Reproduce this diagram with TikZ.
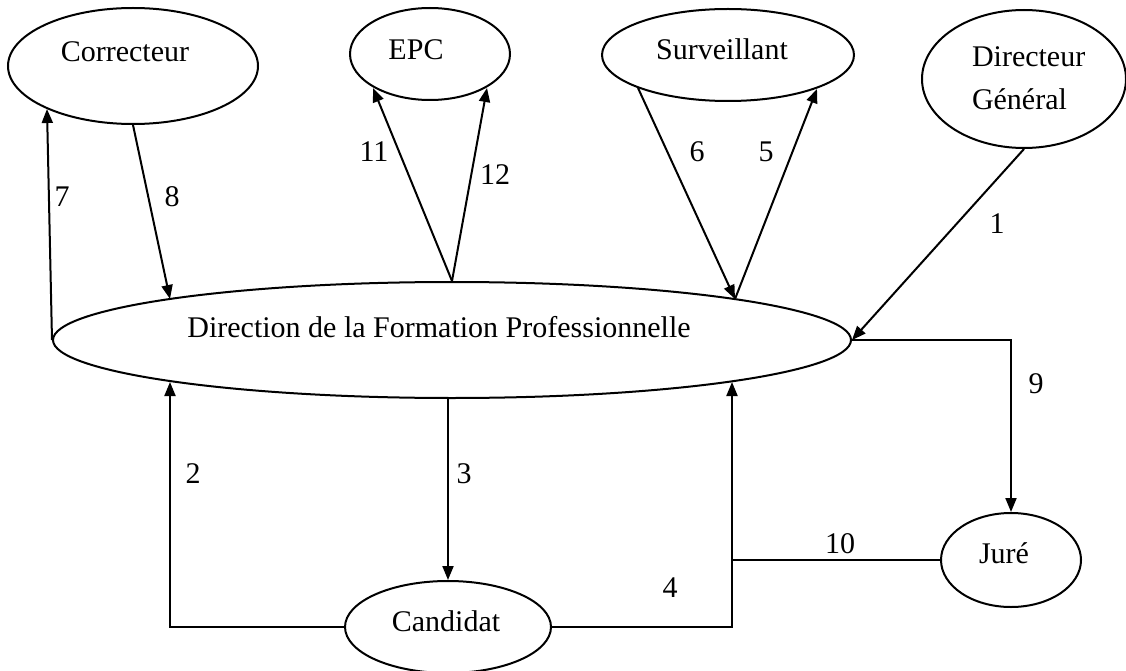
\documentclass[tikz,border=0pt]{standalone}
\usepackage{fontspec}
\setmainfont{Liberation Serif}
\usetikzlibrary{shapes.geometric,arrows.meta,calc}
\begin{document}
\begin{tikzpicture}[x=1pt,y=-1pt,line width=2pt,
  bubble/.style={draw,ellipse,inner sep=0pt},
  txt/.style={font=\fontsize{30}{36}\selectfont,anchor=base,inner sep=0pt},
  flow/.style={-{Triangle[length=14pt,width=11pt]}}]
\useasboundingbox (0,0) rectangle (1126,671);

% actors
\node[bubble,minimum width=250pt,minimum height=116pt] (corr) at (133,66) {};
\node[bubble,minimum width=160pt,minimum height=92pt]  (epc)  at (430,54) {};
\node[bubble,minimum width=252pt,minimum height=92pt]  (surv) at (728,55) {};
\node[bubble,minimum width=204pt,minimum height=138pt] (dg)   at (1024,79) {};
\node[bubble,minimum width=798pt,minimum height=116pt] (dfp)  at (452,340) {};
\node[bubble,minimum width=206pt,minimum height=92pt]  (cand) at (448,627) {};
\node[bubble,minimum width=140pt,minimum height=94pt]  (jure) at (1011,560) {};

% names
\node[txt] (tcorr) at (125,62) {Correcteur};
\node[txt] (tepc)  at (416,60) {EPC};
\node[txt] (tsurv) at (722,60) {Surveillant};
\node[txt,anchor=base west] (tdg1) at (971,67) {Directeur};
\node[txt,anchor=base west] (tdg2) at (971,110) {Général};
\node[txt] (tdfp)  at (439,337) {Direction de la Formation Professionnelle};
\node[txt] (tcand) at (446,631) {Candidat};
\node[txt] (tjure) at (1004,563) {Juré};

% points where the flows meet the ellipses
\coordinate (d8)  at ($(dfp)+(-282,-41)$);
\coordinate (d2)  at ($(dfp)+(-282,42)$);
\coordinate (d4)  at ($(dfp)+(280,42)$);
\coordinate (d56) at ($(dfp)+(283,-41)$);
\coordinate (c7)  at ($(corr)+(-86,43)$);
\coordinate (e11) at ($(epc)+(-57,34)$);
\coordinate (e12) at ($(epc)+(57,34)$);
\coordinate (s6)  at ($(surv)+(-90,33)$);
\coordinate (s5)  at ($(surv)+(89,34)$);

% flows
\draw[flow] (dg.south) -- (dfp.east);
\draw[flow] (dfp.west) -- (c7);
\draw[flow] (corr.south) -- (d8);
\draw[flow] (dfp.north) -- (e11);
\draw[flow] (dfp.north) -- (e12);
\draw[flow] (s6) -- (d56);
\draw[flow] (d56) -- (s5);
\draw[flow] (dfp.east) -| (jure.north);
\draw[flow] (cand.west) -| (d2);
\draw[flow] (cand.north |- dfp.south) -- (cand.north);
\draw[flow] (cand.east) -| (d4);
\coordinate (j4) at (d4 |- jure.west);
\draw (jure.west) -- (j4);

% flow numbers
\node[txt] (n1)  at (997,233) {1};
\node[txt] (n2)  at (193,483) {2};
\node[txt] (n3)  at (464,483) {3};
\node[txt] (n4)  at (670,597) {4};
\node[txt] (n5)  at (766,162) {5};
\node[txt] (n6)  at (697,162) {6};
\node[txt] (n7)  at (62,207) {7};
\node[txt] (n8)  at (172,207) {8};
\node[txt] (n9)  at (1036,393) {9};
\node[txt] (n10) at (840,553) {10};
\node[txt] (n11) at (374,162) {11};
\node[txt] (n12) at (495,185) {12};
\end{tikzpicture}
\end{document}
